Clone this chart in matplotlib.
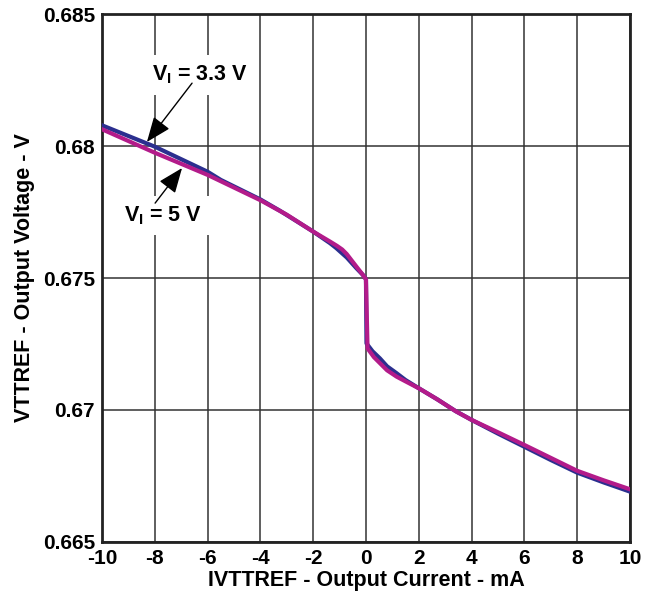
import matplotlib
matplotlib.use("Agg")
import matplotlib.pyplot as plt

plt.rcParams['font.family'] = ['Liberation Sans', 'DejaVu Sans']
plt.rcParams['axes.unicode_minus'] = False
plt.rcParams['mathtext.fontset'] = 'custom'
plt.rcParams['mathtext.rm'] = 'Liberation Sans:bold'
plt.rcParams['mathtext.bf'] = 'Liberation Sans:bold'
plt.rcParams['mathtext.it'] = 'Liberation Sans:bold'

# Data
x_33 = [-10, -8, -6, -5.5, -4, -3.26, -2, -1.36, -1.12, -0.73, -0.36, -0.11, 0.0,
        0.02, 0.25, 0.53, 0.8, 1.16, 1.5, 2, 2.7, 3.4, 4, 5, 6, 7, 8, 9, 10]
v_33 = [0.68079, 0.67998, 0.67903, 0.67872, 0.67798, 0.67755, 0.67676, 0.67632,
        0.67613, 0.67578, 0.67537, 0.67511, 0.67495, 0.67252, 0.67222, 0.67195,
        0.67165, 0.67139, 0.67113, 0.67082, 0.67040, 0.66995, 0.66962, 0.66910,
        0.66860, 0.66810, 0.66762, 0.66725, 0.66690]

x_5 = [-10, -8, -6, -4, -3, -2, -1.36, -1.1, -0.9, -0.73, -0.36, -0.11, 0.0,
       0.06, 0.3, 0.53, 0.8, 1.16, 1.5, 2, 2.7, 3.4, 4, 5, 6, 7, 8, 9, 10]
v_5 = [0.68064, 0.67975, 0.67891, 0.67795, 0.67740, 0.67676, 0.67638, 0.67622,
       0.67608, 0.67591, 0.67543, 0.67511, 0.67495, 0.67233, 0.67200, 0.67177,
       0.67150, 0.67126, 0.67108, 0.67082, 0.67040, 0.66995, 0.66962, 0.66915,
       0.66867, 0.66818, 0.66769, 0.66733, 0.66699]

x_ticks = [-10, -8, -6, -4, -2, 0, 2, 4, 6, 8, 10]
y_ticks = [0.665, 0.67, 0.675, 0.68, 0.685]
y_tick_labels = ['0.665', '0.67', '0.675', '0.68', '0.685']

fig = plt.figure(figsize=(6.46, 6.07), dpi=100)
ax = fig.add_axes([0.158, 0.1076, 0.817, 0.8688])

ax.plot(x_33, v_33, color='#2b2f8f', lw=3.0, zorder=3, solid_joinstyle='round')
ax.plot(x_5, v_5, color='#b31b8a', lw=3.0, zorder=4, solid_joinstyle='round')

ax.set_xlim(-10, 10)
ax.set_ylim(0.665, 0.685)
ax.set_xticks(x_ticks)
ax.set_yticks(y_ticks)
ax.set_yticklabels(y_tick_labels)
ax.tick_params(length=0, labelsize=15, pad=5)
for lab in ax.get_xticklabels() + ax.get_yticklabels():
    lab.set_fontweight('bold')
ax.grid(True, color='#333333', lw=1.1, zorder=1)
ax.set_axisbelow(True)
for s in ax.spines.values():
    s.set_linewidth(2.0)
    s.set_color('#222222')

ax.set_xlabel('IVTTREF - Output Current - mA', fontsize=15.5, fontweight='bold', labelpad=2)
ax.set_ylabel('VTTREF - Output Voltage - V', fontsize=15.5, fontweight='bold', labelpad=6)

bbox = dict(boxstyle='square,pad=0.4', fc='white', ec='none')
ax.text(-6.29, 0.6827, r'$\mathbf{V_I}$ = 3.3 V', fontsize=15.5, fontweight='bold',
        ha='center', va='center', bbox=bbox, zorder=5)
ax.text(-7.71, 0.67737, r'$\mathbf{V_I}$ = 5 V', fontsize=15.5, fontweight='bold',
        ha='center', va='center', bbox=bbox, zorder=5)

arrow = dict(arrowstyle='-|>,head_length=0.55,head_width=0.22', color='black', lw=1.0,
             shrinkA=0, shrinkB=0, mutation_scale=28)
ax.annotate('', xy=(-8.30, 0.68016), xytext=(-6.59, 0.68239), arrowprops=arrow, zorder=6)
ax.annotate('', xy=(-6.97, 0.67917), xytext=(-7.99, 0.67784), arrowprops=arrow, zorder=6)

fig.savefig('out.png', dpi=100)
